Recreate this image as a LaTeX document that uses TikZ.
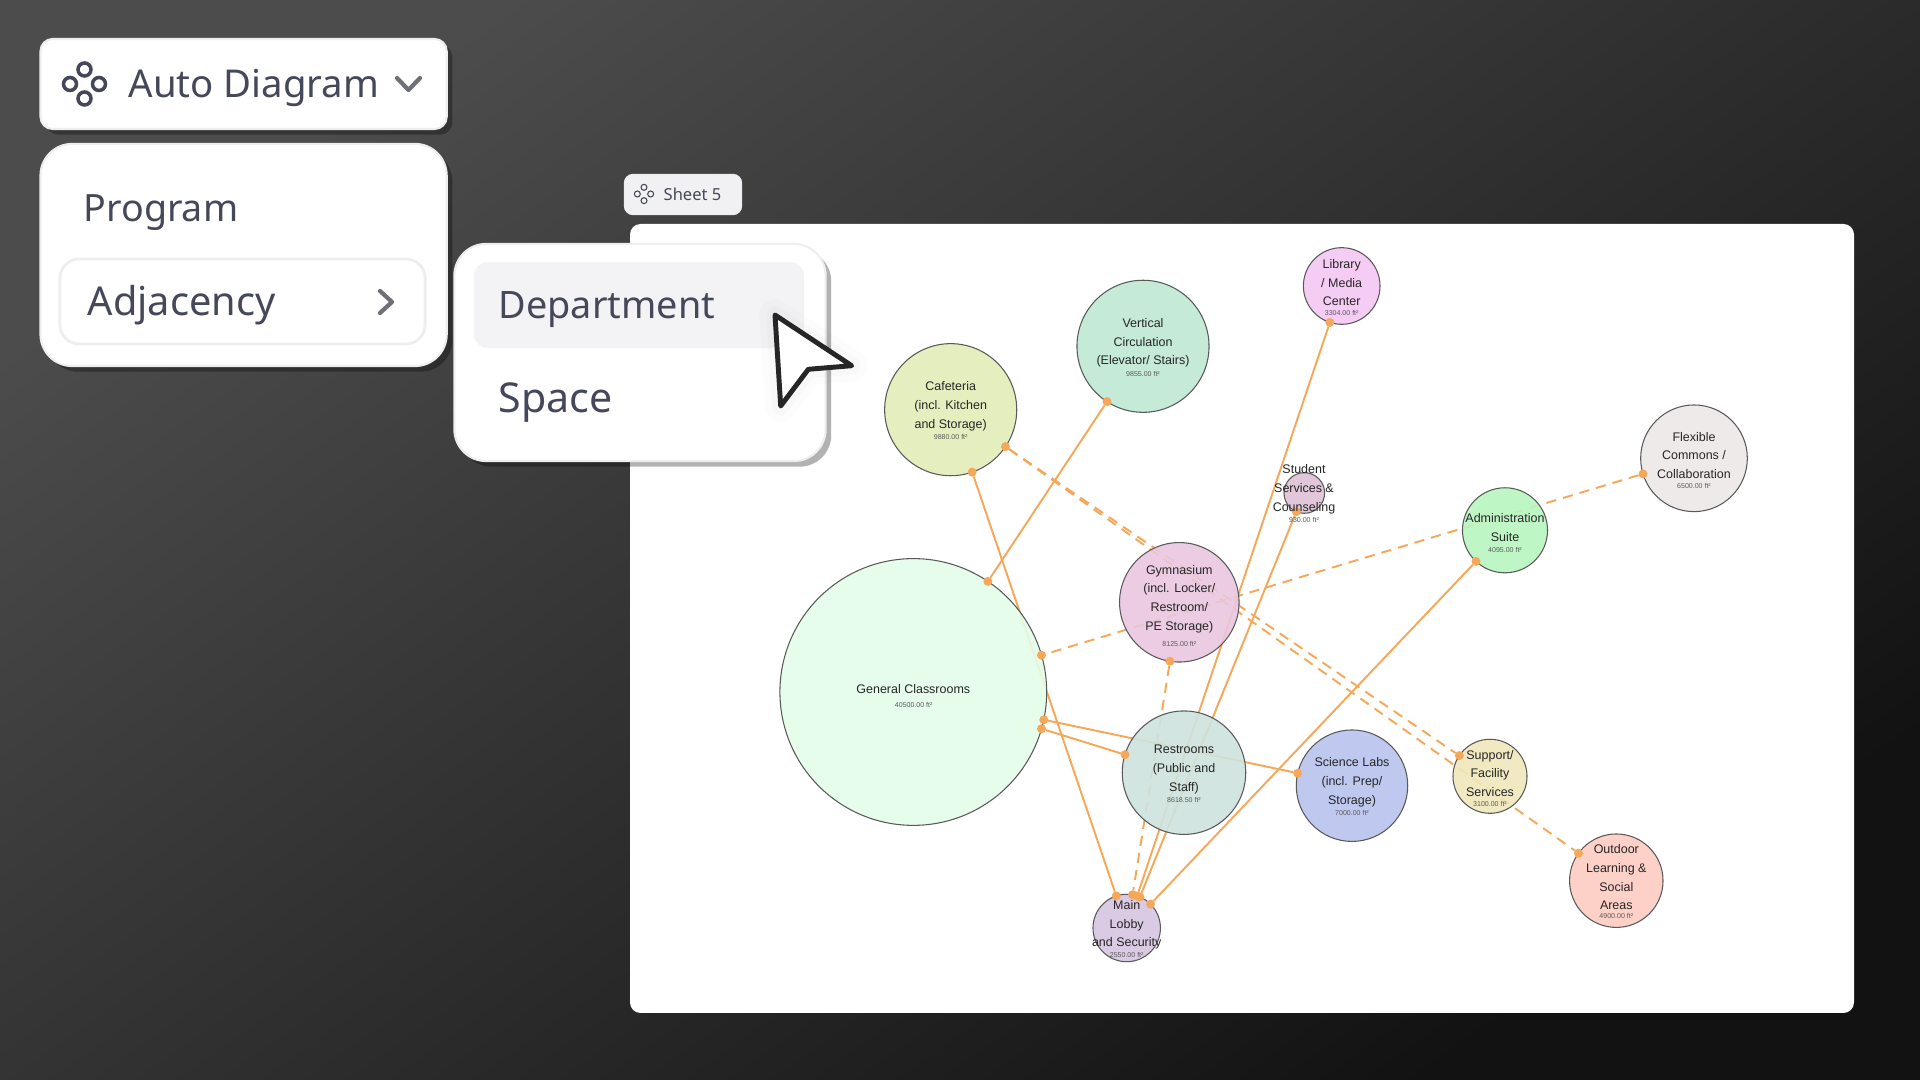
\documentclass[tikz,border=0pt]{standalone}
\usepackage{fontspec}
\setmainfont{Liberation Sans}
\newfontfamily\uifont{Noto Sans}
\usetikzlibrary{shadows,backgrounds}

\definecolor{uiInk}{RGB}{69,72,89}
\definecolor{uiGrey}{RGB}{110,112,118}
\definecolor{uiEdge}{RGB}{238,238,240}
\definecolor{uiHover}{RGB}{243,243,246}
\definecolor{linkOrange}{RGB}{245,168,90}
\definecolor{cGeneral}{RGB}{229,253,233}
\definecolor{cGym}{RGB}{233,199,223}
\definecolor{cRest}{RGB}{206,227,222}
\definecolor{cCafe}{RGB}{226,237,184}
\definecolor{cVert}{RGB}{191,232,212}
\definecolor{cLib}{RGB}{245,199,242}
\definecolor{cStudent}{RGB}{223,194,216}
\definecolor{cAdmin}{RGB}{185,246,191}
\definecolor{cFlex}{RGB}{238,232,232}
\definecolor{cScience}{RGB}{185,196,238}
\definecolor{cSupport}{RGB}{240,231,187}
\definecolor{cLobby}{RGB}{216,197,224}
\definecolor{cOutdoor}{RGB}{253,205,194}

\begin{document}
\begin{tikzpicture}[
                    x=0.01cm, y=-0.01cm,
                    card/.style={fill=white, draw=uiEdge, line width=.6pt},
                    menushadow/.style={drop shadow={shadow xshift=1.6pt, shadow yshift=-1.6pt, opacity=.3, fill=black}},
                    uitext/.style={anchor=base west, inner sep=0pt, text=uiInk, font=\uifont\fontsize{10.9}{13}\selectfont},
                    chevron/.style={draw=uiGrey, line width=1.2pt, line cap=round, line join=round},
                    hubicon/.pic={\draw[uiInk] (0,-14.5) circle (6.5) (0,14.5) circle (6.5) (-14.5,0) circle (6.5) (14.5,0) circle (6.5);},
                    room/.style={circle, draw=black!65, line width=.3pt, inner sep=0pt, outer sep=0pt, fill opacity=.9},
                    roomlabel/.style={inner sep=0pt, yshift=-.007cm, align=center, text=black!85, font=\fontsize{3.55}{5.32}\selectfont},
                    areatext/.style={inner sep=0pt, text=black!65, font=\fontsize{2}{2.4}\selectfont},
                    dot/.style={circle, fill=linkOrange, inner sep=0pt, outer sep=0pt, minimum size=.09cm},
                    adjlink/.style={draw=linkOrange, line width=.55pt},
                    adjdash/.style={adjlink, dash pattern=on 2.9pt off 2pt}
                ]
                \useasboundingbox (0,0) rectangle (1920,1080);

                % backdrop and sheet
                \begin{scope}[on background layer]
                    \shade[left color=black!70, middle color=black!86, right color=black!93, shading angle=35] (0,0) rectangle (1920,1080);
                    \fill[white, rounded corners=3pt] (630,224) rectangle (1854,1013);
                \end{scope}

                % sheet tag
                \node[draw=uiEdge, fill=uiEdge!80, rounded corners=2.5pt, minimum width=1.17cm, minimum height=.4cm, inner sep=0pt] (sheetTag) at (683,194.5) {};
                \pic[scale=.46, line width=.3pt] at (644,194) {hubicon};
                \node[uitext, font=\uifont\fontsize{4.7}{6}\selectfont] (sheetText) at (663,201) {Sheet 5};

                % dropdown button
                \node[card, menushadow, rounded corners=3.5pt, minimum width=4.06cm, minimum height=.9cm, inner sep=0pt] (autoCard) at (243.6,84) {};
                \pic[line width=1pt] at (84.5,84) {hubicon};
                \node[uitext] (autoText) at (128,98) {Auto Diagram};
                \draw[chevron] (397,78) -- (408.5,90) -- (420,78);

                % first menu
                \node[card, menushadow, rounded corners=9pt, minimum width=4.06cm, minimum height=2.22cm, inner sep=0pt] (menuMain) at (243.6,255) {};
                \node[uitext, font=\uifont\fontsize{10.7}{13}\selectfont] (programText) at (83,222) {Program};
                \node[draw=uiEdge, line width=.8pt, fill=white, rounded corners=5.5pt, minimum width=3.65cm, minimum height=.85cm, inner sep=0pt] (adjBox) at (242.5,301.5) {};
                \node[uitext, font=\uifont\fontsize{11.3}{13}\selectfont] (adjText) at (87,316) {Adjacency};
                \draw[chevron] (380,291) -- (392,302) -- (380,313);

                % second menu
                \node[card, menushadow, rounded corners=9pt, minimum width=3.71cm, minimum height=2.17cm, inner sep=0pt] (menuSub) at (640,352.5) {};
                \node[fill=uiHover, rounded corners=4pt, minimum width=3.3cm, minimum height=.86cm, inner sep=0pt] (hoverBox) at (639,305) {};
                \node[uitext, font=\uifont\fontsize{10.75}{13}\selectfont] (deptText) at (498,319) {Department};
                \node[uitext, font=\uifont\fontsize{11.7}{13}\selectfont] (spaceText) at (498,413) {Space};

                % pointer
                \draw[black, opacity=.012, line width=9pt, line join=round] (775,315) -- (851.7,365.7) -- (808.3,369.3) -- (780.7,406) -- cycle;
                \draw[black, opacity=.015, line width=5pt, line join=round] (775,315) -- (851.7,365.7) -- (808.3,369.3) -- (780.7,406) -- cycle;
                \draw[fill=white, draw=black!85, line width=1.4pt, line join=round] (775,315) -- (851.7,365.7) -- (808.3,369.3) -- (780.7,406) -- cycle;

                % spaces
                \node[room, fill=cGeneral, minimum size=2.666cm] (gen) at (913.3,692) {};
                \node[room, fill=cGym, minimum size=1.194cm] (gym) at (1179.3,602.3) {};
                \node[room, fill=cRest, minimum size=1.234cm] (rest) at (1184,772.7) {};
                \node[room, fill=cCafe, minimum size=1.32cm] (cafe) at (950.7,409.7) {};
                \node[room, fill=cVert, minimum size=1.32cm] (vert) at (1143,346.3) {};
                \node[room, fill=cLib, minimum size=.766cm] (lib) at (1341.7,286) {};
                \node[room, fill=cStudent, minimum size=.406cm] (student) at (1304.3,493) {};
                \node[room, fill=cAdmin, minimum size=.85cm] (admin) at (1505,530.3) {};
                \node[room, fill=cFlex, minimum size=1.066cm] (flex) at (1694,458.3) {};
                \node[room, fill=cScience, minimum size=1.114cm] (science) at (1352,785.7) {};
                \node[room, fill=cSupport, minimum size=.74cm] (support) at (1490,776.3) {};
                \node[room, fill=cLobby, minimum size=.674cm] (lobby) at (1126.7,928) {};
                \node[room, fill=cOutdoor, minimum size=.934cm] (outdoor) at (1616.3,880.7) {};

                % link ends
                \node[dot] (cafeA) at (cafe.-71.1) {};
                \node[dot] (cafeB) at (cafe.-34.8) {};
                \node[dot] (vertA) at (vert.-123.9) {};
                \node[dot] (libA) at (lib.-108.4) {};
                \node[dot] (studentA) at (student.-113.2) {};
                \node[dot] (gymA) at (gym.-99) {};
                \node[dot] (adminA) at (admin.-133.7) {};
                \node[dot] (flexA) at (flex.-163.2) {};
                \node[dot] (genA) at (gen.56.4) {};
                \node[dot] (genB) at (gen.16.6) {};
                \node[dot] (genC) at (gen.-12.2) {};
                \node[dot] (genD) at (gen.-16.7) {};
                \node[dot] (restA) at (rest.163.5) {};
                \node[dot] (scienceA) at (science.167.8) {};
                \node[dot] (supportA) at (support.146.1) {};
                \node[dot] (outdoorA) at (outdoor.144.6) {};
                \node[dot] (lobbyA) at (lobby.108.4) {};
                \node[dot] (lobbyB) at (lobby.80.4) {};
                \node[dot] (lobbyC) at (lobby.72.5) {};
                \node[dot] (lobbyD) at (lobby.67.2) {};
                \node[dot] (lobbyE) at (lobby.45.8) {};

                % links, under the spaces
                \begin{scope}[on background layer]
                    \draw[adjlink] (cafeA) -- (lobbyA);
                    \draw[adjlink] (vertA) -- (genA);
                    \draw[adjlink] (libA) -- (lobbyC);
                    \draw[adjlink] (studentA) -- (lobbyD);
                    \draw[adjlink] (adminA) -- (lobbyE);
                    \draw[adjlink] (genC) -- (scienceA);
                    \draw[adjlink] (genD) -- (restA);
                    \draw[adjdash] (cafeB) -- (supportA);
                    \draw[adjdash] (cafeB) -- (outdoorA);
                    \draw[adjdash] (gymA) -- (lobbyB);
                    \draw[adjdash] (flexA) -- (genB);
                \end{scope}

                % names
                \node[roomlabel] (genName) at (913.3,688.3) {General Classrooms};
                \node[roomlabel] (gymName) at (1179.3,598.3) {Gymnasium\\(incl. Locker/\\Restroom/\\PE Storage)};
                \node[roomlabel] (restName) at (1184,768.7) {Restrooms\\(Public and\\Staff)};
                \node[roomlabel] (cafeName) at (950.7,405.7) {Cafeteria\\(incl. Kitchen\\and Storage)};
                \node[roomlabel] (vertName) at (1143,342.3) {Vertical\\Circulation\\(Elevator/ Stairs)};
                \node[roomlabel] (libName) at (1341.7,282) {Library\\/ Media\\Center};
                \node[roomlabel] (studentName) at (1304,488.7) {Student\\Services \&\\Counseling};
                \node[roomlabel] (adminName) at (1505,526.5) {Administration\\Suite};
                \node[roomlabel] (flexName) at (1694,454.7) {Flexible\\Commons /\\Collaboration};
                \node[roomlabel] (scienceName) at (1352,781.7) {Science Labs\\(incl. Prep/\\Storage)};
                \node[roomlabel] (supportName) at (1490,772.7) {Support/\\Facility\\Services};
                \node[roomlabel] (lobbyName) at (1126.7,924.3) {Main\\Lobby\\and Security};
                \node[roomlabel] (outdoorName) at (1616.3,876.5) {Outdoor\\Learning \&\\Social\\Areas};

                % areas
                \node[areatext] (genArea) at (913.7,704.7) {40500.00 ft²};
                \node[areatext] (gymArea) at (1179.3,644.3) {8125.00 ft²};
                \node[areatext] (restArea) at (1184,800.3) {8618.50 ft²};
                \node[areatext] (cafeArea) at (950.7,437.3) {9880.00 ft²};
                \node[areatext] (vertArea) at (1143,373.7) {9855.00 ft²};
                \node[areatext] (libArea) at (1341.7,313.3) {3304.00 ft²};
                \node[areatext] (studentArea) at (1304,520) {930.00 ft²};
                \node[areatext] (adminArea) at (1505,550.3) {4095.00 ft²};
                \node[areatext] (flexArea) at (1694,485.7) {6500.00 ft²};
                \node[areatext] (scienceArea) at (1352,813) {7000.00 ft²};
                \node[areatext] (supportArea) at (1490,804) {3100.00 ft²};
                \node[areatext] (lobbyArea) at (1126.7,955.3) {2550.00 ft²};
                \node[areatext] (outdoorArea) at (1616.3,915.7) {4900.00 ft²};

            \end{tikzpicture}
\end{document}
